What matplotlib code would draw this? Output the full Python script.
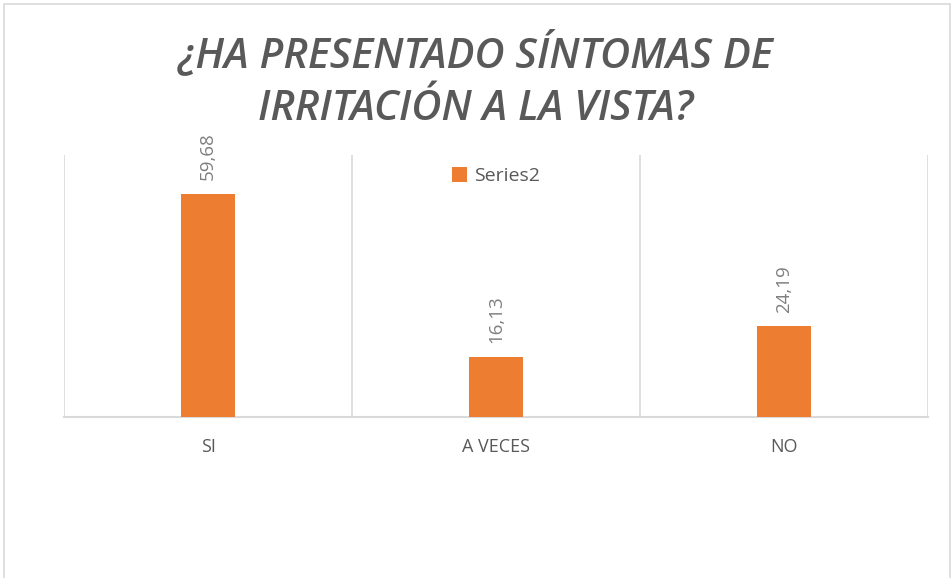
import matplotlib
matplotlib.use("Agg")
import matplotlib.pyplot as plt
from matplotlib.patches import Rectangle

categories = ["SI", "A VECES", "NO"]
values = [59.68, 16.13, 24.19]
value_labels = ["59,68", "16,13", "24,19"]
series_name = "Series2"
title = "¿HA PRESENTADO SÍNTOMAS DE\nIRRITACIÓN A LA VISTA?"

W, H = 952, 578
fig = plt.figure(figsize=(W / 100, H / 100), dpi=100)
fig.patch.set_facecolor("white")

# chart frame
fig.add_artist(Rectangle((4 / W, -0.1), (950 - 4) / W, (H - 4) / H + 0.1,
                         transform=fig.transFigure, fill=False,
                         edgecolor="#d9d9d9", linewidth=1.2))

left, right, top, bottom = 64, 928, 155, 417
ax = fig.add_axes([left / W, 1 - bottom / H, (right - left) / W, (bottom - top) / H])

orange = "#ed7d31"
gray = "#595959"
lgray = "#7f7f7f"
x = list(range(len(categories)))
bars = ax.bar(x, values, width=0.185, color=orange, label=series_name, zorder=3)
ax.set_xlim(-0.5, len(categories) - 0.5)
ax.set_ylim(0, 70)

for i, (v, lab) in enumerate(zip(values, value_labels)):
    ax.annotate(lab, (i, v), xytext=(0, 10), textcoords="offset points",
                rotation=90, ha="center", va="bottom", color=lgray,
                fontsize=13.5, family="Open Sans")

# vertical category separators
for b in [-0.5, 0.5, 1.5, 2.5]:
    ax.axvline(b, color="#d9d9d9", linewidth=1.2, zorder=1)

for s in ["top", "left", "right"]:
    ax.spines[s].set_visible(False)
ax.spines["bottom"].set_color("#d9d9d9")
ax.spines["bottom"].set_linewidth(1.5)
ax.set_yticks([])
ax.set_xticks(x)
ax.set_xticklabels(categories, color=gray, fontsize=13, family="Open Sans")
ax.tick_params(axis="x", length=0, pad=15)

leg = ax.legend(loc="upper center", bbox_to_anchor=(0.5, 1.02), frameon=False,
                handlelength=0.75, handleheight=0.75, handletextpad=0.35,
                prop={"family": "Open Sans", "size": 14})
for t in leg.get_texts():
    t.set_color(gray)

fig.text(0.5, 1 - 80 / H, title, ha="center", va="center", color=gray,
         fontsize=30, fontweight="semibold", fontstyle="italic", family="Open Sans",
         linespacing=1.35)

fig.savefig("out.png", dpi=100, facecolor="white")
